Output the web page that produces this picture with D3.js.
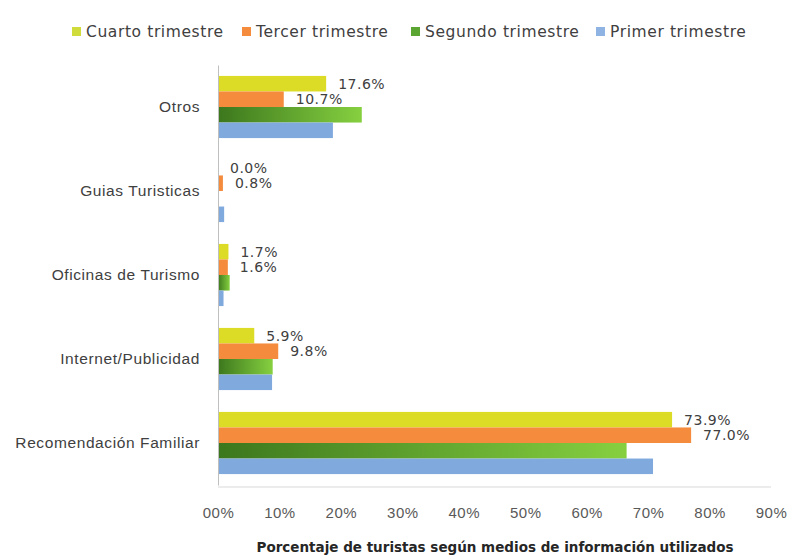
<!DOCTYPE html>
<html>
<head>
<meta charset="utf-8">
<script src="https://cdn.jsdelivr.net/npm/d3@7"></script>
<style>
  html, body { margin: 0; padding: 0; background: #ffffff; }
  svg { display: block; font-family: "DejaVu Sans", "Noto Sans", sans-serif; }
</style>
</head>
<body>
<svg id="chart" width="789" height="560"></svg>
<script>
// ---- data ----
const categories = ["Otros", "Guias Turisticas", "Oficinas de Turismo", "Internet/Publicidad", "Recomendación Familiar"];
const seriesNames = ["Cuarto trimestre", "Tercer trimestre", "Segundo trimestre", "Primer trimestre"];
const cuarto  = [17.6, 0.0, 1.7, 5.9, 73.9];
const tercer  = [10.7, 0.8, 1.6, 9.8, 77.0];
const segundo = [23.4, 0.0, 1.9, 8.9, 66.5];
const primer  = [18.7, 1.0, 0.9, 8.8, 70.8];
const labelledSeries = ["Cuarto trimestre", "Tercer trimestre"];
const tickValues = [0, 10, 20, 30, 40, 50, 60, 70, 80, 90];
const tickLabels = ["00%", "10%", "20%", "30%", "40%", "50%", "60%", "70%", "80%", "90%"];
const axisTitle = "Porcentaje de turistas según medios de información utilizados";

const seriesValues = [cuarto, tercer, segundo, primer];
const colors = ["#dcdc26", "#f58b3c", "url(#greenGrad)", "#80a9de"];
const legendColors = ["#cfdc3c", "#f58b3c", "#5ba532", "#8fb4e3"];

// ---- layout ----
const svg = d3.select("#chart");
const mLeft = 218, mRight = 771, mTop = 65, mBottom = 485;

const defs = svg.append("defs");
const grad = defs.append("linearGradient").attr("id", "greenGrad")
  .attr("x1", "0%").attr("x2", "100%").attr("y1", "0%").attr("y2", "0%");
grad.append("stop").attr("offset", "0%").attr("stop-color", "#3c771d");
grad.append("stop").attr("offset", "100%").attr("stop-color", "#86d040");

const x = d3.scaleLinear().domain([0, 90]).range([mLeft, mRight]);
const y = d3.scaleBand().domain(categories).range([mTop, mBottom]).paddingInner(0.26).paddingOuter(0.13);
const ySub = d3.scaleBand().domain(seriesNames).range([0, y.bandwidth()]);

// bottom line
svg.append("line").attr("x1", mLeft).attr("x2", mRight).attr("y1", mBottom + 2).attr("y2", mBottom + 2)
  .attr("stroke", "#d9d9d9").attr("stroke-width", 1);

// bars
seriesNames.forEach((s, si) => {
  const vals = seriesValues[si];
  svg.append("g").selectAll("rect").data(categories).join("rect")
    .attr("x", x(0))
    .attr("y", (c) => y(c) + ySub(s))
    .attr("width", (c, i) => x(vals[i]) - x(0))
    .attr("height", ySub.bandwidth())
    .attr("fill", colors[si]);
});

// y axis
const yAxis = svg.append("g").attr("transform", `translate(${mLeft},0)`)
  .call(d3.axisLeft(y).tickSize(0).tickPadding(18));
yAxis.select(".domain").attr("stroke", "#bfbfbf");
yAxis.selectAll("text").attr("font-size", 15.5).attr("letter-spacing", 0.6).attr("fill", "#404040");

// x axis labels
const xAxis = svg.append("g").attr("transform", `translate(0,${mBottom})`)
  .call(d3.axisBottom(x).tickValues(tickValues).tickSize(0).tickPadding(22)
    .tickFormat((d, i) => tickLabels[i]));
xAxis.select(".domain").remove();
xAxis.selectAll("text").attr("font-size", 15).attr("letter-spacing", 0.5).attr("fill", "#595959");

// data labels
seriesNames.forEach((s, si) => {
  if (!labelledSeries.includes(s)) return;
  const vals = seriesValues[si];
  svg.append("g").selectAll("text").data(categories).join("text")
    .attr("x", (c, i) => x(vals[i]) + 12)
    .attr("y", (c) => y(c) + ySub(s) + ySub.bandwidth() / 2 + 1)
    .attr("dominant-baseline", "middle")
    .attr("font-size", 14)
    .attr("letter-spacing", 0.5)
    .attr("fill", "#404040")
    .text((c, i) => vals[i].toFixed(1) + "%");
});

// axis title
svg.append("text").attr("x", 495).attr("y", 552).attr("text-anchor", "middle")
  .attr("font-size", 13.5).attr("font-weight", "bold").attr("fill", "#262626")
  .text(axisTitle);

// legend
const legendX = [72, 242, 411, 596];
const legend = svg.append("g");
seriesNames.forEach((s, si) => {
  legend.append("rect").attr("x", legendX[si]).attr("y", 27).attr("width", 9).attr("height", 9)
    .attr("fill", legendColors[si]);
  legend.append("text").attr("x", legendX[si] + 14).attr("y", 32)
    .attr("dominant-baseline", "middle").attr("font-size", 15.5).attr("letter-spacing", 0.6)
    .attr("fill", "#404040").text(s);
});
</script>
</body>
</html>
